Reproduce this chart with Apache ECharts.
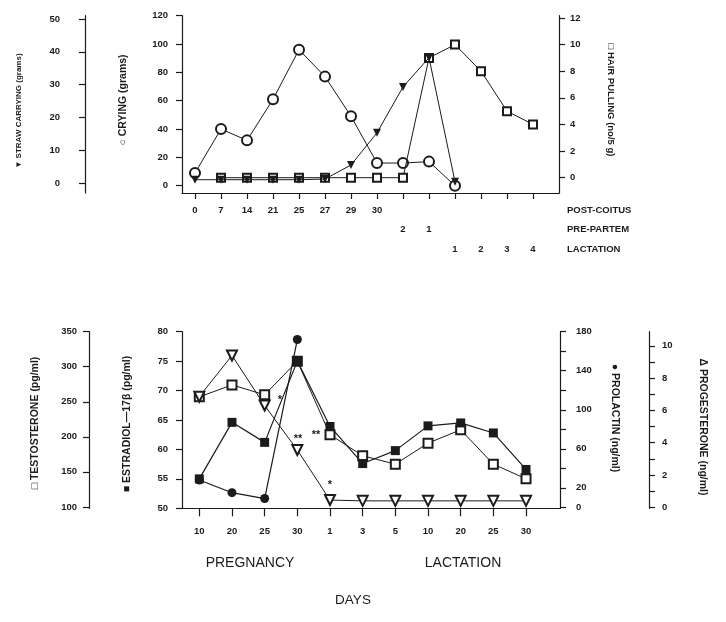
<!DOCTYPE html>
<html><head><meta charset="utf-8">
<script src="https://cdn.jsdelivr.net/npm/echarts@6/dist/echarts.min.js"></script>
<style>html,body{margin:0;padding:0;background:#fff}#c{width:726px;height:622px}</style>
</head><body><div id="c"></div>
<script>
// ---- top panel data ----
const topRow1 = ['0','7','14','21','25','27','29','30'];   // POST-COITUS
const topRow2 = ['2','1'];                                  // PRE-PARTEM
const topRow3 = ['1','2','3','4'];                          // LACTATION
const crying = [9,40,32,61,96,77,49,16,16,17,0];            // grams
const straw  = [1,1,1,1,1,1.2,5.5,15.3,29.3,38.2,0.4];      // grams
const hair   = [null,0,0,0,0,0,0,0,0,9,10,8,5,4];           // no/5 g
// ---- bottom panel data ----
const bottomLabels = ['10','20','25','30','1','3','5','10','20','25','30'];
const estradiol    = [55.0,64.6,61.2,75.0,63.9,57.6,59.8,64.0,64.5,62.8,56.6];
const testosterone = [257,274,260,308,203,173,161,191,210,161,140];
const prolactin    = [28,15,9,172];
const progesterone = [6.85,9.4,6.3,3.55,0.45,0.4,0.4,0.4,0.4,0.4,0.4];
// tick label arrays
const cryingTicks = [0,20,40,60,80,100,120];
const strawTicks = [0,10,20,30,40,50];
const hairTicks = [0,2,4,6,8,10,12];
const estrTicks = [50,55,60,65,70,75,80];
const testoTicks = [100,150,200,250,300,350];
const prolTicks = [0,20,40,60,80,100,120,140,160,180];
const prolLabels = [0,20,60,100,140,180];
const progTicks = [0,1,2,3,4,5,6,7,8,9,10];
const progLabels = [0,2,4,6,8,10];

const INK = '#1b1b1b';
const FONT = 'Liberation Sans';
const pairs = arr => arr.map((v,i)=>[i,v]).filter(p=>p[1]!==null);
const range = (a,b)=>{const r=[];for(let i=a;i<=b;i++)r.push(i);return r;};

const lbl = (extra)=>Object.assign({color:INK,fontSize:9.5,fontFamily:FONT,fontWeight:'bold'},extra);
const line = {show:true,lineStyle:{color:INK,width:1.2}};

function yAx(o){
  return {
    type:'value', gridIndex:o.grid, position:o.pos, offset:o.offset||0,
    min:o.min, max:o.max, splitLine:{show:false},
    axisLine:Object.assign({},line,{onZero:false}),
    axisTick:{show:true,length:6,inside:false,customValues:o.ticks,lineStyle:{color:INK,width:1.2}},
    axisLabel:lbl({margin:o.margin,customValues:o.labels||o.ticks}),
  };
}
function txt(x,y,text,size,rot,align,bold){
  return {type:'text',x:x,y:y,rotation:rot||0,
    style:{text:text,fontSize:size,fontFamily:FONT,fontWeight:bold===false?'normal':'bold',fill:INK,align:align||'center',verticalAlign:'middle'}};
}

// hair-pulling peak marker drawn filled, as in the source figure
const hairData = pairs(hair).map(p => p[1] === Math.max(...hair.filter(v=>v!==null)) - 1 ? {value:p,itemStyle:{color:INK,borderColor:INK}} : p);

const option = {
  animation:false,
  backgroundColor:'#fff',
  grid:[
    {left:182,right:167,top:15.7,height:177.3},
    {left:182,right:166,top:331.7,height:176.6}
  ],
  xAxis:[
    {type:'value',gridIndex:0,position:'bottom',min:-0.5,max:14,splitLine:{show:false},
     axisLine:Object.assign({},line,{onZero:false}),
     axisTick:{length:6,customValues:range(0,13),lineStyle:{color:INK,width:1.2}},
     axisLabel:lbl({margin:12,customValues:range(0,7),formatter:v=>topRow1[v]})},
    {type:'value',gridIndex:0,position:'bottom',min:-0.5,max:14,splitLine:{show:false},
     axisLine:{show:false,onZero:false},axisTick:{show:false},
     axisLabel:lbl({margin:31,customValues:[8,9],formatter:v=>topRow2[v-8]})},
    {type:'value',gridIndex:0,position:'bottom',min:-0.5,max:14,splitLine:{show:false},
     axisLine:{show:false,onZero:false},axisTick:{show:false},
     axisLabel:lbl({margin:51,customValues:range(10,13),formatter:v=>topRow3[v-10]})},
    {type:'value',gridIndex:1,position:'bottom',min:-0.53,max:11.04,splitLine:{show:false},
     axisLine:Object.assign({},line,{onZero:false}),
     axisTick:{length:8,customValues:range(0,10),lineStyle:{color:INK,width:1.2}},
     axisLabel:lbl({margin:18,customValues:range(0,10),formatter:v=>bottomLabels[v]})}
  ],
  yAxis:[
    yAx({grid:0,pos:'left',min:-5.15,max:120,ticks:cryingTicks,margin:14}),
    yAx({grid:0,pos:'left',offset:97,min:-3.05,max:51.0,ticks:strawTicks,margin:25}),
    yAx({grid:0,pos:'right',min:-1.15,max:12.17,ticks:hairTicks,margin:11}),
    yAx({grid:1,pos:'left',min:50,max:80,ticks:estrTicks,margin:14}),
    yAx({grid:1,pos:'left',offset:93,min:98,max:350,ticks:testoTicks,margin:12}),
    yAx({grid:1,pos:'right',min:-1,max:180,ticks:prolTicks,labels:prolLabels,margin:16}),
    yAx({grid:1,pos:'right',offset:89,min:-0.06,max:10.87,ticks:progTicks,labels:progLabels,margin:13})
  ],
  series:[
    {name:'crying',type:'line',xAxisIndex:0,yAxisIndex:0,data:pairs(crying),
     symbol:'emptyCircle',symbolSize:10,lineStyle:{color:INK,width:1},itemStyle:{color:INK,borderWidth:1.3},z:3},
    {name:'hair',type:'line',xAxisIndex:0,yAxisIndex:2,data:hairData,
     symbol:'emptyRect',symbolSize:8,lineStyle:{color:INK,width:1},itemStyle:{color:INK,borderWidth:1.3},z:4},
    {name:'straw',type:'line',xAxisIndex:0,yAxisIndex:1,data:pairs(straw),
     symbol:'triangle',symbolRotate:180,symbolSize:8,lineStyle:{color:INK,width:1},itemStyle:{color:INK},z:5},

    {name:'testosterone',type:'line',xAxisIndex:3,yAxisIndex:4,data:pairs(testosterone),
     symbol:'emptyRect',symbolSize:9,lineStyle:{color:INK,width:1},itemStyle:{color:INK,borderWidth:1.3},z:3},
    {name:'progesterone',type:'line',xAxisIndex:3,yAxisIndex:6,data:pairs(progesterone),
     symbol:'emptyTriangle',symbolRotate:180,symbolSize:10,lineStyle:{color:INK,width:1},itemStyle:{color:INK,borderWidth:1.3},z:3},
    {name:'estradiol',type:'line',xAxisIndex:3,yAxisIndex:3,data:pairs(estradiol),
     symbol:'rect',symbolSize:9,lineStyle:{color:INK,width:1.2},itemStyle:{color:INK},z:4},
    {name:'prolactin',type:'line',xAxisIndex:3,yAxisIndex:5,data:pairs(prolactin),
     symbol:'circle',symbolSize:9,lineStyle:{color:INK,width:1.2},itemStyle:{color:INK},z:4}
  ],
  graphic:[
    txt(19,111,'▼ STRAW CARRYING (grams)',8,Math.PI/2),
    txt(123,100,'○ CRYING (grams)',10.5,Math.PI/2),
    txt(611,100,'□ HAIR PULLING (no/5 g)',9.5,-Math.PI/2),
    txt(567,210,'POST-COITUS',9.5,0,'left'),
    txt(567,229,'PRE-PARTEM',9.5,0,'left'),
    txt(567,249,'LACTATION',9.5,0,'left'),
    txt(35,423,'□ TESTOSTERONE (pg/ml)',10.5,Math.PI/2),
    txt(127,424,'■ ESTRADIOL—17β (pg/ml)',10.5,Math.PI/2),
    txt(615,418,'● PROLACTIN (ng/ml)',10.5,-Math.PI/2),
    txt(703,427,'Δ PROGESTERONE (ng/ml)',10.5,-Math.PI/2),
    txt(280,400,'*',11),
    txt(298,439,'**',11),
    txt(316,435,'**',11),
    txt(330,485,'*',11),
    txt(250,563,'PREGNANCY',14,0,'center',false),
    txt(463,563,'LACTATION',14,0,'center',false),
    txt(353,600,'DAYS',13.5,0,'center',false)
  ]
};
const chart = echarts.init(document.getElementById('c'),null,{renderer:'canvas'});
chart.setOption(option);
</script></body></html>
